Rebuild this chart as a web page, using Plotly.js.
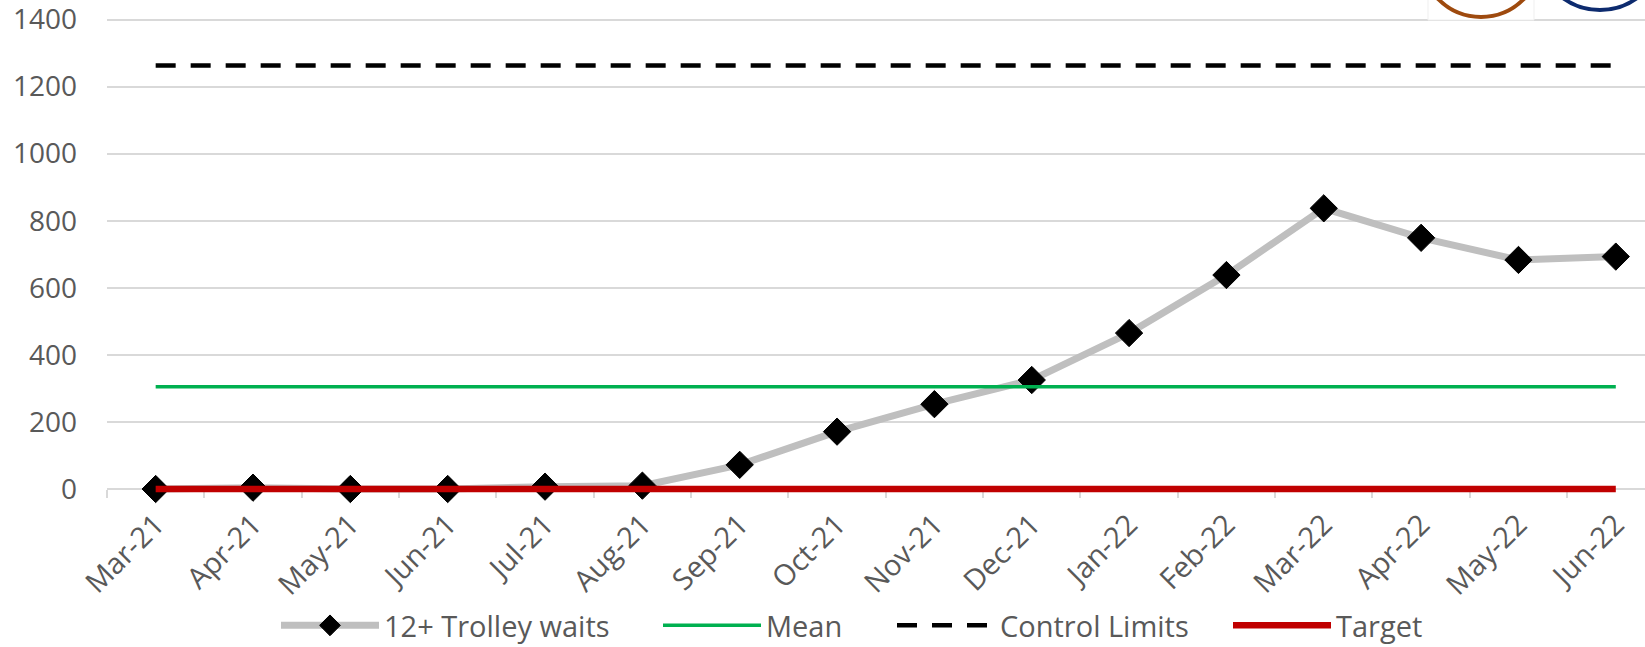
<!DOCTYPE html>
<html>
<head>
<meta charset="utf-8">
<script src="https://cdn.plot.ly/plotly-3.0.1.min.js"></script>
<style>html,body{margin:0;padding:0;background:#fff;}#chart{width:1645px;height:647px;}</style>
</head>
<body>
<div id="chart"></div>
<script>
// ---- data ----
const months = ["Mar-21","Apr-21","May-21","Jun-21","Jul-21","Aug-21","Sep-21","Oct-21",
                "Nov-21","Dec-21","Jan-22","Feb-22","Mar-22","Apr-22","May-22","Jun-22"];
const trolleyWaits = [0, 4, 0, 0, 7, 10, 72, 171, 253, 325, 465, 638, 837, 749, 683, 693];
const meanValue = 305;
const upperControlLimit = 1263;
const targetValue = 0;
const yTickValues = [0, 200, 400, 600, 800, 1000, 1200, 1400];

const FONT = '"Open Sans", "Liberation Sans", sans-serif';
const GREY_TEXT = '#595959';
const FS = 29;

// plot area geometry in page pixels
const PL = 107, PW = 1538;          // left edge, width
const PLOT_BOTTOM = 493, ZERO_Y = 489; // plot bottom, pixel of value 0
const PX_PER_UNIT = 469.5 / 1400;   // from gridlines 0 -> 1400
const PH = PLOT_BOTTOM;             // top margin is 0
const px = v => (v - PL) / PW;
const py = v => (PLOT_BOTTOM - v) / PH;

const traces = [
  {
    name: '12+ Trolley waits', x: months, y: trolleyWaits, type: 'scatter', mode: 'lines+markers',
    line: {color: '#BFBFBF', width: 7},
    marker: {symbol: 'diamond', size: 21, color: '#000000', line: {color: '#000000', width: 1}},
    cliponaxis: false, legend: 'legend'
  },
  {
    name: 'Mean', x: months, y: months.map(() => meanValue), type: 'scatter', mode: 'lines',
    line: {color: '#00B050', width: 3.5}, cliponaxis: false, legend: 'legend2'
  },
  {
    name: 'Control Limits', x: months, y: months.map(() => upperControlLimit), type: 'scatter', mode: 'lines',
    line: {color: '#000000', width: 4.5, dash: '20px,15px'}, cliponaxis: false, legend: 'legend3'
  },
  {
    name: 'Target', x: months, y: months.map(() => targetValue), type: 'scatter', mode: 'lines',
    line: {color: '#C00000', width: 6.5}, cliponaxis: false, legend: 'legend4'
  }
];

function legendAt(symbolStart) {
  return {
    orientation: 'h', x: px(symbolStart - 5), xanchor: 'left', y: py(651), yanchor: 'bottom',
    font: {family: FONT, size: FS, color: GREY_TEXT},
    bgcolor: 'rgba(0,0,0,0)', borderwidth: 0, itemwidth: 98
  };
}

const layout = {
  width: 1645, height: 647,
  margin: {l: PL, r: 0, t: 0, b: 647 - PLOT_BOTTOM, pad: 0, autoexpand: false},
  paper_bgcolor: '#ffffff', plot_bgcolor: '#ffffff',
  font: {family: FONT, color: GREY_TEXT, size: FS},
  showlegend: true,
  xaxis: {
    type: 'category', range: [-0.5, 15.3], autorange: false,
    anchor: 'free', position: (PLOT_BOTTOM - ZERO_Y) / PH,
    showgrid: false, zeroline: false,
    showline: true, linecolor: '#D9D9D9', linewidth: 2,
    ticks: 'outside', tickson: 'boundaries', ticklen: 8, tickwidth: 2, tickcolor: '#D9D9D9',
    ticklabelstandoff: 6,
    tickangle: -45, tickfont: {family: FONT, size: FS, color: GREY_TEXT},
    layer: 'below traces', automargin: false, fixedrange: true
  },
  yaxis: {
    range: [-(PLOT_BOTTOM - ZERO_Y) / PX_PER_UNIT, ZERO_Y / PX_PER_UNIT], autorange: false,
    tickmode: 'array', tickvals: yTickValues, ticktext: yTickValues.map(String),
    showgrid: true, gridcolor: '#D9D9D9', gridwidth: 2,
    zeroline: false, showline: false, ticks: '',
    ticklabelstandoff: 29, ticklabeloverflow: 'allow',
    tickfont: {family: FONT, size: 28, color: GREY_TEXT},
    automargin: false, fixedrange: true
  },
  legend: legendAt(281),
  legend2: legendAt(663),
  legend3: legendAt(897),
  legend4: legendAt(1233),
  shapes: [
    {type: 'rect', xref: 'paper', yref: 'paper', x0: px(1428), x1: px(1534), y0: py(20), y1: py(-20),
     fillcolor: '#ffffff', line: {color: '#EFEFEF', width: 1}, layer: 'above'},
    {type: 'circle', xref: 'paper', yref: 'paper', x0: px(1421), x1: px(1541), y0: py(17), y1: py(-103),
     fillcolor: 'rgba(0,0,0,0)', line: {color: '#9E4A0E', width: 4}, layer: 'above'},
    {type: 'circle', xref: 'paper', yref: 'paper', x0: px(1537), x1: px(1663), y0: py(10), y1: py(-116),
     fillcolor: 'rgba(0,0,0,0)', line: {color: '#0D2B6E', width: 4}, layer: 'above'}
  ]
};

Plotly.newPlot('chart', traces, layout, {displayModeBar: false, staticPlot: true});
</script>
</body>
</html>
